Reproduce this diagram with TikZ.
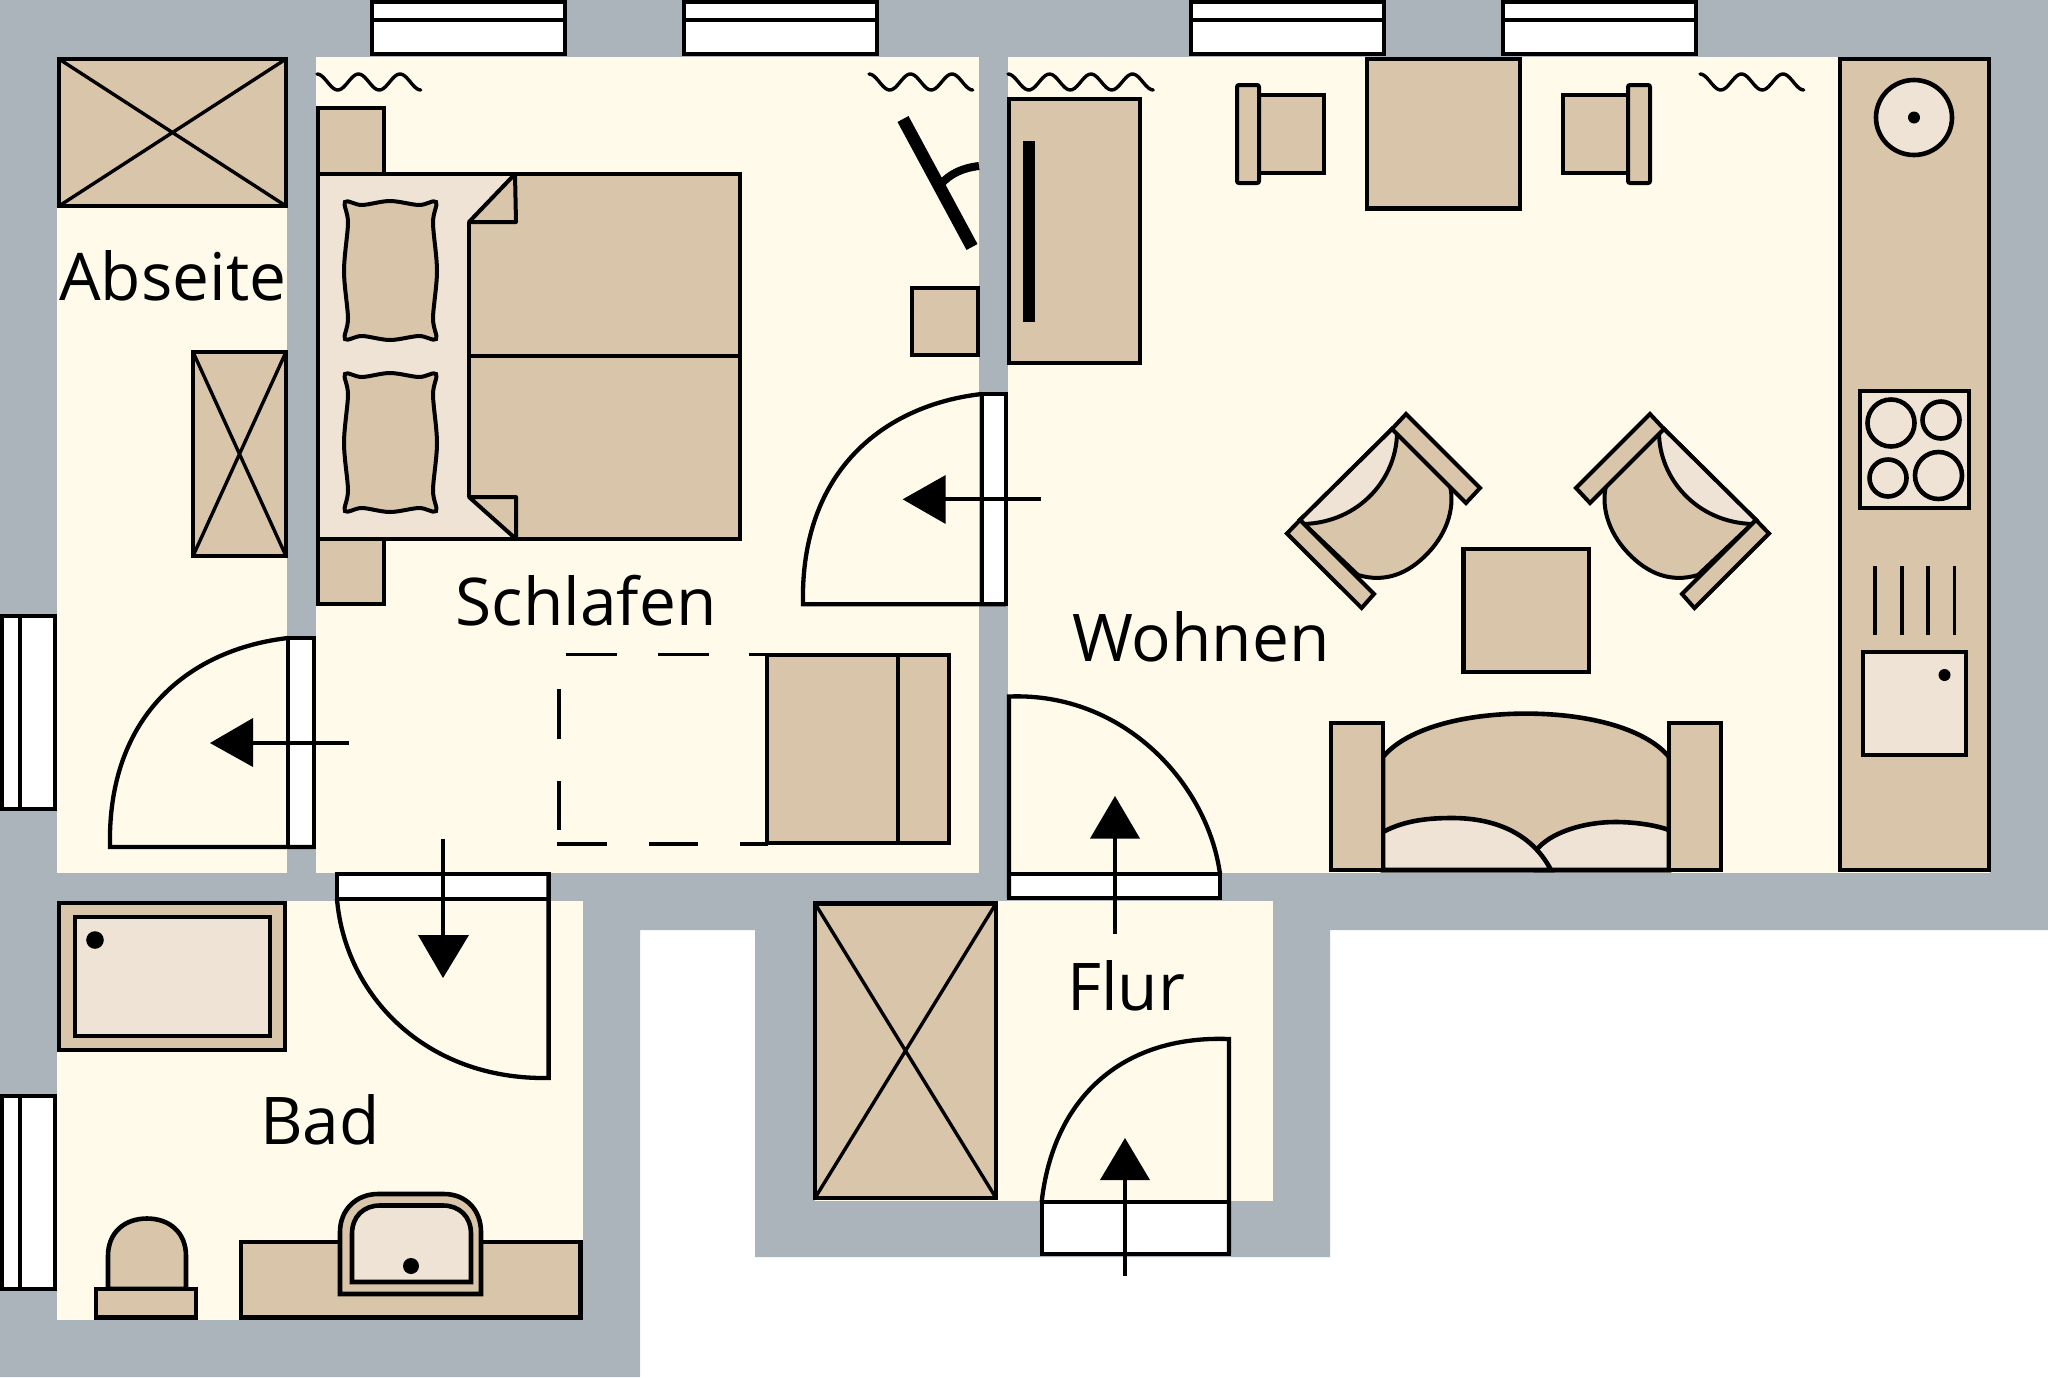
\documentclass[tikz,border=0pt]{standalone}
\usepackage{fontspec}
\setmainfont{Open Sans}
\definecolor{wallgray}{HTML}{ABB3BB}
\definecolor{roomcream}{HTML}{FFFAE9}
\definecolor{tan}{HTML}{D9C5AA}
\definecolor{pale}{HTML}{EEE3D5}
\tikzset{
  wall/.style={fill=wallgray,draw=none},
  room/.style={fill=roomcream,draw=none},
  furn/.style={fill=tan,draw=black,line width=4.6pt,line join=miter},
  lightf/.style={fill=pale,draw=black,line width=4.6pt,line join=miter},
  thinline/.style={draw=black,line width=3.4pt},
  opening/.style={fill=white,draw=black,line width=4pt},
  swing/.style={draw=black,line width=4.3pt,line join=miter},
  wavy/.style={draw=black,line width=3.4pt,line cap=round},
  label/.style={inner sep=0pt,anchor=base west,font=\fontsize{65.8}{70}\selectfont},
  blackdot/.style={fill=black,draw=none}
}
\newcommand\radiator[2]{\draw[wavy] plot[domain=0:#2,samples=60,smooth] ({#1+41.5*\x},{82-8*cos(360*\x)});}
\newcommand\pillowshape[2]{\begin{scope}[shift={(#1,#2)}]
  \draw[fill=tan,draw=black,line width=4pt] plot[smooth cycle,tension=0.55] coordinates {(1,1) (18,4) (46,0) (75,4) (92,1) (89,22) (93,70) (89,117) (92,138) (75,135) (46,139) (18,135) (1,138) (4,117) (0,70) (4,22)};
\end{scope}}
\newcommand\armchairshape{%
  \draw[furn,line width=4pt] (1392,429) -- (1449,482) .. controls (1456,505) and (1448,532) .. (1428,553) .. controls (1408,574) and (1385,583) .. (1358,575) -- (1300,520) -- cycle;
  \draw[lightf,line width=4pt] (1392,429) -- (1397,432) .. controls (1397,478) and (1360,522) .. (1304,524) -- (1300,520) -- cycle;
  \draw[furn,line width=4pt] (1406,414) -- (1480,488) -- (1466,503) -- (1392,429) -- cycle;
  \draw[furn,line width=4pt] (1287,533.5) -- (1361.6,608) -- (1374,594) -- (1300,520) -- cycle;
}
\begin{document}
\begin{tikzpicture}[x=1pt,y=-1pt]
\useasboundingbox (0,0) rectangle (2048,1377);
% walls
\fill[wall] (0,0) -- (2048,0) -- (2048,930) -- (1330,930) -- (1330,1257) -- (755,1257) -- (755,930) -- (640,930) -- (640,1377) -- (0,1377) -- cycle;
% rooms
\fill[room] (57,57) rectangle (287,872.5);
\fill[room] (316,57) rectangle (979,872.5);
\fill[room] (1007.5,57) rectangle (1990,872.5);
\fill[room] (57,901) rectangle (583,1319.5);
\fill[room] (815,901) rectangle (1273,1200.5);
% windows top
\foreach \xa/\xb in {372/564.5,684/876.5,1191/1384,1503/1696}{
  \draw[opening] (\xa,2) rectangle (\xb,54);
  \draw[opening] (\xa,19.6) -- (\xb,19.6);
}
% windows left
\foreach \ya/\yb in {615.5/808.5,1095.5/1289}{
  \draw[opening] (2,\ya) rectangle (55,\yb);
  \draw[opening] (20,\ya) -- (20,\yb);
}
% radiators
\radiator{317}{2.5}
\radiator{869}{2.5}
\radiator{1008}{3.5}
\radiator{1700}{2.5}
% Abseite closets
\draw[furn] (59,59) rectangle (286,206);
\draw[thinline] (59,59) -- (286,206) (286,59) -- (59,206);
\draw[furn] (193,352) rectangle (286,556);
\draw[thinline] (193,352) -- (286,556) (286,352) -- (193,556);
% bed
\draw[furn] (318,108) rectangle (384,174);
\draw[furn] (318,539) rectangle (384,604);
\draw[furn] (318,174) rectangle (740,539);
\fill[pale] (318,174) -- (516,174) -- (469,222) -- (469,497) -- (516,539) -- (318,539) -- cycle;
\draw[line width=4.6pt] (318,174) rectangle (740,539);
\draw[furn,line width=4pt,line join=round] (515,174) -- (469,222) -- (516,222) -- cycle;
\draw[furn,line width=4pt,line join=round] (469,497) -- (516,497) -- (516,539) -- cycle;
\draw[line width=4pt] (469,222) -- (469,497);
\draw[line width=4.6pt] (469,356) -- (740,356);
\pillowshape{344}{201}
\pillowshape{344}{373}
% tilted mirror
\draw[line width=12.5pt] (903,119) -- (972,247);
\draw[line width=8pt] (979,166) .. controls (962,168) and (950,174) .. (941,184);
\draw[furn] (912,288) rectangle (978,355);
% door Schlafen-Wohnen
\draw[opening] (981.7,394) rectangle (1006,604.3);
\draw[swing] (981.7,394) .. controls (885,405) and (800,470) .. (803,604.3) -- (1006,604.3);
\draw[line width=3.6pt] (1041,499) -- (945,499);
\fill[black] (902.7,499.3) -- (945.7,475) -- (945.7,524) -- cycle;
% door Abseite
\draw[opening] (288,638) rectangle (314,847);
\draw[swing] (288,638) .. controls (192,649) and (107,713) .. (110,847) -- (314,847);
\draw[line width=3.6pt] (349,743) -- (253,743);
\fill[black] (210,743) -- (253,718) -- (253,767) -- cycle;
% door Bad
\draw[opening] (337,874.3) rectangle (548.6,899);
\draw[swing] (337,899) .. controls (345,995) and (425,1080) .. (548.6,1078) -- (548.6,874.3);
\draw[line width=3.6pt] (443,839) -- (443,935);
\fill[black] (443,978) -- (418,935) -- (469,935) -- cycle;
% door Wohnen-Flur
\draw[opening] (1009,874) rectangle (1220,898);
\draw[swing] (1220,874) .. controls (1208,785) and (1125,692) .. (1009,696.5) -- (1009,898);
\draw[line width=3.6pt] (1115,934) -- (1115,838);
\fill[black] (1115,796) -- (1090,838.5) -- (1140,838.5) -- cycle;
% entrance door
\draw[opening] (1041.7,1201.7) rectangle (1229,1254);
\draw[swing] (1041.7,1201.7) .. controls (1053,1100) and (1120,1035) .. (1229,1039) -- (1229,1254);
\draw[line width=3.6pt] (1125,1275.6) -- (1125,1180);
\fill[black] (1125,1138) -- (1100,1180) -- (1150,1180) -- cycle;
% wardrobe with dashed outline
\draw[furn,line width=4pt] (767,654.5) rectangle (949,843);
\draw[line width=4pt] (898,654.5) -- (898,843);
\draw[thinline,line width=3.6pt] (566,654.5) -- (617,654.5) (658,654.5) -- (708.5,654.5) (749,654.5) -- (767,654.5)
  (559,689) -- (559,739) (559,781) -- (559,830)
  (557,844) -- (606.5,844) (649,844) -- (698,844) (740,844) -- (768,844);
% Wohnen furniture
\draw[furn] (1009,99) rectangle (1140,363);
\fill[black] (1023,141) rectangle (1035,322);
\draw[furn] (1367,59) rectangle (1520,208.5);
\draw[furn,line width=4pt] (1259,95) rectangle (1324,173);
\draw[furn,line width=4pt,rounded corners=2pt] (1237,85) rectangle (1259,183);
\draw[furn,line width=4pt] (1563,95) rectangle (1628,173);
\draw[furn,line width=4pt,rounded corners=2pt] (1628,85) rectangle (1650,183);
% kitchen
\draw[furn] (1840,59) rectangle (1989,870);
\draw[lightf] (1914,117.5) ellipse [x radius=38,y radius=37.5];
\fill[blackdot] (1914,117.5) circle (6);
\draw[lightf] (1860,391) rectangle (1969,508);
\foreach \cx/\cy/\r in {1891/423/23.5,1941/420/18.5,1888/478/18.5,1938.5/475.5/23.5}{
  \draw[lightf] (\cx,\cy) circle (\r);
}
\foreach \tx in {1875,1902,1928,1954.5}{
  \draw[thinline] (\tx,566) -- (\tx,634.7);
}
\draw[lightf] (1863,652) rectangle (1966,755);
\fill[blackdot] (1944.5,675) circle (6);
% armchairs and table
\armchairshape
\begin{scope}[xshift=3056pt,xscale=-1]
\armchairshape
\end{scope}
\draw[furn] (1463.6,549) rectangle (1589,672);
% sofa
\draw[furn] (1383,757) .. controls (1405,730) and (1460,713.6) .. (1526,713.6) .. controls (1592,713.6) and (1647,730) .. (1669,757) -- (1669,870) -- (1383,870) -- cycle;
\draw[lightf] (1536,850.6) .. controls (1550,832) and (1585,822) .. (1615,822) .. controls (1635,822) and (1655,825) .. (1669,830) -- (1669,870) -- (1536,870) -- cycle;
\draw[lightf] (1383,832) .. controls (1405,820) and (1430,818) .. (1452,818) .. controls (1490,818) and (1530,830) .. (1551,870) -- (1383,870) -- cycle;
\draw[furn] (1331,723) rectangle (1383,870);
\draw[furn] (1669,723) rectangle (1721,870);
% Bad furniture
\draw[furn] (59,903) rectangle (285,1050);
\draw[lightf] (75,917) rectangle (270,1036);
\fill[blackdot] (95,940) circle (8.8);
\draw[furn] (108,1289) -- (108,1256) .. controls (108,1232) and (125,1218.5) .. (147,1218.5) .. controls (169,1218.5) and (186,1232) .. (186,1256) -- (186,1289) -- cycle;
\draw[furn] (96,1289) rectangle (196,1317.5);
\draw[furn] (241,1242) rectangle (580.5,1317.5);
\draw[furn] (340,1294) -- (340,1232) .. controls (340,1210) and (356,1194) .. (378,1194) -- (444,1194) .. controls (466,1194) and (481,1210) .. (481,1232) -- (481,1294) -- cycle;
\draw[lightf] (352,1282) -- (352,1234) .. controls (352,1216) and (364,1205.5) .. (380,1205.5) -- (443,1205.5) .. controls (459,1205.5) and (471,1216) .. (471,1234) -- (471,1282) -- cycle;
\fill[blackdot] (411,1266) circle (8);
% Flur closet
\draw[furn] (815,903.5) rectangle (996,1198);
\draw[thinline] (815,903.5) -- (996,1198) (996,903.5) -- (815,1198);
% labels
\node[label] (abseite) at (59,300) {Abseite};
\node[label] (schlafen) at (455.5,625) {Schlafen};
\node[label] (wohnen) at (1072,661) {Wohnen};
\node[label] (flur) at (1067,1010) {Flur};
\node[label] (bad) at (260,1144) {Bad};
\end{tikzpicture}
\end{document}
